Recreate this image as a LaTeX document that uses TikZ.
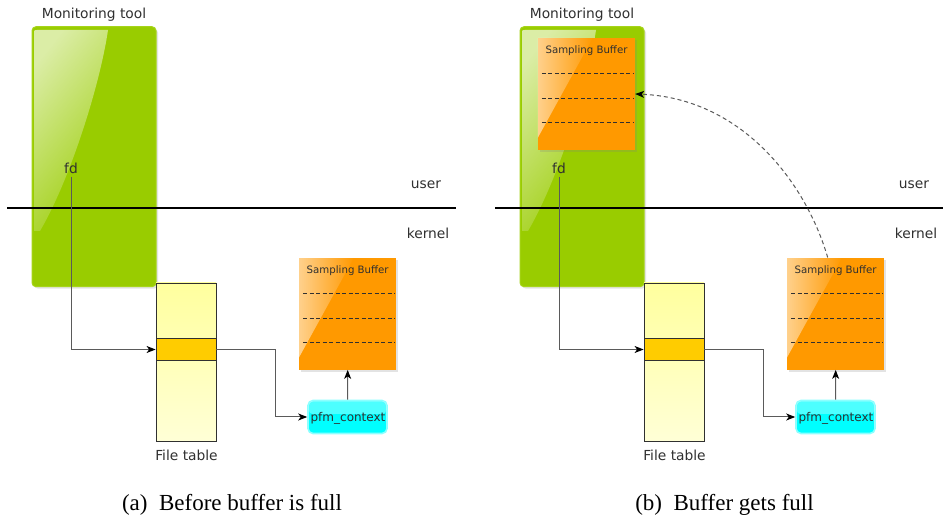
\documentclass[tikz,border=0pt]{standalone}
\usepackage{fontspec}
\setmainfont{Liberation Serif}
\newfontfamily\labelfont{DejaVu Sans}
\usetikzlibrary{arrows.meta,shadows,fadings,calc}

\definecolor{toolgreen}{HTML}{99CC00}
\definecolor{toolrim}{HTML}{A6D41A}
\definecolor{buforange}{HTML}{FF9900}
\definecolor{tableyellow}{HTML}{FFFF9E}
\definecolor{tablepale}{HTML}{FFFFD6}
\definecolor{rowgold}{HTML}{FFCC00}
\definecolor{ctxcyan}{HTML}{00FFFF}
\definecolor{ctxrim}{HTML}{8CFFFF}
\definecolor{inkgray}{HTML}{303030}
\definecolor{wiregray}{HTML}{5A5A5A}

\tikzfading[name=glintfade, top color=transparent!35, bottom color=transparent!96]
\tikzfading[name=sheenfade, left color=transparent!45, right color=transparent!100]

\tikzset{
  toolbox/.style={draw=toolrim, line width=1pt, fill=toolgreen, rounded corners=4pt,
    minimum width=124pt, minimum height=260pt, inner sep=0pt,
    drop shadow={opacity=0.22, shadow xshift=2pt, shadow yshift=-2pt}},
  bufbox/.style={fill=buforange, minimum width=97pt, minimum height=112pt, inner sep=0pt,
    drop shadow={opacity=0.22, shadow xshift=2pt, shadow yshift=-2pt}},
  tablebox/.style={draw=inkgray, line width=0.8pt, top color=tableyellow, bottom color=tablepale,
    minimum width=60pt, minimum height=158pt, inner sep=0pt},
  rowbox/.style={draw=inkgray, line width=0.8pt, fill=rowgold,
    minimum width=60pt, minimum height=22pt, inner sep=0pt},
  ctxbox/.style={draw=ctxrim, line width=1.6pt, fill=ctxcyan, rounded corners=5pt,
    minimum width=79pt, minimum height=33pt, inner sep=0pt},
  lbl/.style={font=\labelfont\fontsize{13.8}{16}\selectfont, text=inkgray, inner sep=0pt},
  smalllbl/.style={font=\labelfont\fontsize{10.2}{12}\selectfont, text=inkgray, inner sep=0pt},
  ctxlbl/.style={font=\labelfont\fontsize{12}{14}\selectfont, text=inkgray, inner sep=0pt},
  caption/.style={font=\fontsize{23}{27}\selectfont, inner sep=0pt},
  divider/.style={line width=1.3pt, draw=black},
  link/.style={draw=wiregray, line width=1pt, -{Stealth[length=9pt,width=7pt,inset=2.5pt,color=black]}},
  softlink/.style={link, dash pattern=on 4pt off 3pt},
  bufdash/.style={draw=inkgray, line width=0.8pt, dash pattern=on 4pt off 2.5pt},
}

% three slot separators inside a sampling buffer
\newcommand\bufferslots[1]{%
  \foreach \dy in {36,60.5,85}
    \draw[bufdash] ($(#1.north west)+(4,\dy)$) -- ($(#1.north east)+(-2,\dy)$);}

% light sheen on the upper left of a sampling buffer
\newcommand\buffersheen[1]{%
  \fill[white, path fading=sheenfade]
    (#1.north west) -- ($(#1.north west)+(55,0)$) -- ($(#1.north west)+(0,100)$) -- cycle;}

% a sampling buffer with its title and slots
\newcommand\samplingbuffer[2]{%
  \node[bufbox] (#1) at #2 {};
  \buffersheen{#1}
  \node[smalllbl, anchor=base] (#1title) at ($(#1.north)+(0,16)$) {Sampling Buffer};
  \bufferslots{#1}}

% everything that both halves share
\newcommand\panel[2]{%
\begin{scope}[xshift=#2]
  \node[toolbox] (#1tool) at (94,156.7) {};
  \fill[white, path fading=glintfade, fading angle=25]
    (34,33) .. controls (34,30) .. (37,30) -- (108,30)
    .. controls (100,85) and (70,180) .. (40,231) -- (34,231) -- cycle;
  \node[lbl, anchor=base] (#1title) at (94,18.5) {Monitoring tool};
  \node[lbl, anchor=base] (#1user) at (426,188.3) {user};
  \node[lbl, anchor=base] (#1kernel) at (428,238.3) {kernel};
  \draw[divider] (7,208) -- (456,208);
  \node[lbl, anchor=base, inner sep=3pt] (#1fd) at (71,173.3) {fd};
  \node[tablebox] (#1table) at (186,362) {};
  \node[rowbox] (#1row) at (186,349.5) {};
  \node[lbl, anchor=base] (#1tablename) at (186.5,460.7) {File table};
  \samplingbuffer{#1kbuf}{(347.7,313.7)}
  \node[ctxbox] (#1ctx) at (347.5,417) {};
  \fill[white, fill opacity=0.3, rounded corners=4pt]
    ($(#1ctx.north west)+(1.5,1.5)$) rectangle ($(#1ctx.east)+(-1.5,-3)$);
  \node[ctxlbl, anchor=base] (#1ctxname) at (348,421.7) {pfm\_context};
  \draw[link] (#1fd) |- (#1row.west);
  \draw[link] (#1row.east) -- ++(59,0) |- (#1ctx.west);
  \draw[link] (#1ctx.north) -- (#1kbuf.south);
\end{scope}}

\begin{document}
\begin{tikzpicture}[x=1pt,y=-1pt]
  \useasboundingbox (0,0) rectangle (943,518);
  \fill[white] (0,0) rectangle (943,518);

  \panel{a}{0pt}
  \panel{b}{488pt}

  % the filled buffer handed over to user space
  \samplingbuffer{bubuf}{(586.5,94)}
  \draw[softlink] ($(bkbuf.north)+(-8,0)$) .. controls (805,180) and (740,98) .. (bubuf.east);

  \node[caption, anchor=base] (capa) at (232,511) {(a)\enspace Before buffer is full};
  \node[caption, anchor=base] (capb) at (724.5,511) {(b)\enspace Buffer gets full};
\end{tikzpicture}
\end{document}
